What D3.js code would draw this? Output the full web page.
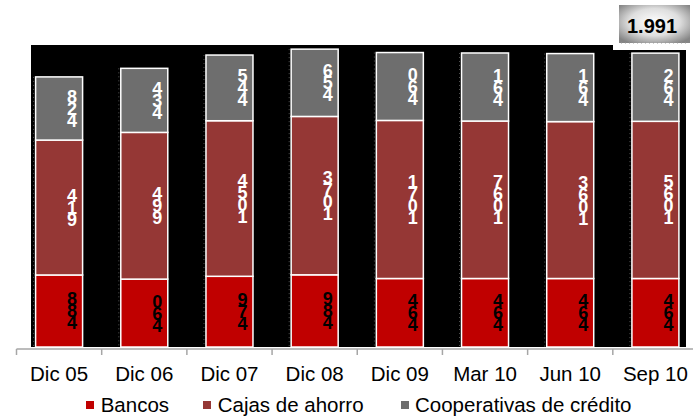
<!DOCTYPE html>
<html>
<head>
<meta charset="utf-8">
<script src="https://cdn.jsdelivr.net/npm/d3@7"></script>
<style>
  html, body { margin: 0; padding: 0; background: #fff; }
  svg { display: block; font-family: "Liberation Sans", Arial, sans-serif; }
</style>
</head>
<body>
<div id="chart"></div>
<script>
// Data
const categories = ['Dic 05', 'Dic 06', 'Dic 07', 'Dic 08', 'Dic 09', 'Mar 10', 'Jun 10', 'Sep 10'];
const bancos = [488, 460, 479, 489, 464, 464, 464, 464];
const cajas = [914, 994, 1054, 1073, 1071, 1067, 1063, 1065];
const cooperativas = [428, 434, 445, 456, 460, 461, 461, 462];
const seriesNames = ['Bancos', 'Cajas de ahorro', 'Cooperativas de crédito'];
const totalLabel = '1.991';

const colors = ['#C00000', '#953735', '#6E6E6E'];
const labelColors = ['#000', '#fff', '#fff'];

const width = 693, height = 420;

const svg = d3.select('#chart').append('svg')
    .attr('width', width)
    .attr('height', height);

// Scales
const x = d3.scaleBand()
    .domain(categories)
    .range([16.5, 698])
    .padding(0);

const y = d3.scaleLinear()
    .domain([0, 2000])
    .range([347, 51.8]);

const barW = 47;

// Plot background
svg.append('rect')
    .attr('x', 31).attr('y', 45)
    .attr('width', 655).attr('height', y(0) - 45)
    .attr('fill', '#000');

// Stack
const table = categories.map((c, i) => ({
    cat: c,
    Bancos: bancos[i],
    'Cajas de ahorro': cajas[i],
    'Cooperativas de crédito': cooperativas[i]
}));
const stacked = d3.stack().keys(seriesNames)(table);

// faint dotted lines at bar left edges
svg.append('g').selectAll('line')
    .data(table)
    .enter().append('line')
    .attr('x1', d => x(d.cat) + x.bandwidth() / 2 - barW / 2 - 2)
    .attr('x2', d => x(d.cat) + x.bandwidth() / 2 - barW / 2 - 2)
    .attr('y1', (d, i) => y(stacked[2][i][1]))
    .attr('y2', y(0))
    .attr('stroke', '#555')
    .attr('stroke-width', 1)
    .attr('stroke-dasharray', '1,3');

// Bars
const layers = svg.append('g').selectAll('g')
    .data(stacked)
    .enter().append('g')
    .attr('fill', (d, i) => colors[i]);

layers.selectAll('rect')
    .data(d => d)
    .enter().append('rect')
    .attr('x', d => x(d.data.cat) + x.bandwidth() / 2 - barW / 2)
    .attr('y', d => y(d[1]))
    .attr('width', barW)
    .attr('height', d => y(d[0]) - y(d[1]))
    .attr('stroke', '#fff')
    .attr('stroke-width', 1.5);

// Stacked-digit value labels (digits reversed, one per line)
const digitStep = 12, capH = 13;
stacked.forEach((layer, si) => {
    layer.forEach(d => {
        const val = d[1] - d[0];
        const digits = String(val).split('').reverse();
        const cx = x(d.data.cat) + x.bandwidth() / 2 + 13;
        const mid = (y(d[0]) + y(d[1])) / 2;
        const span = (digits.length - 1) * digitStep + capH;
        const y0 = mid - span / 2 + capH;
        const t = svg.append('text')
            .attr('text-anchor', 'middle')
            .attr('font-weight', 'bold')
            .attr('font-size', '18px')
            .attr('fill', labelColors[si]);
        digits.forEach((ch, k) => {
            t.append('tspan')
                .attr('x', cx)
                .attr('y', y0 + k * digitStep)
                .text(ch);
        });
    });
});

// X axis
const axisY = 349;
svg.append('line')
    .attr('x1', 16.5).attr('x2', width)
    .attr('y1', axisY).attr('y2', axisY)
    .attr('stroke', '#A6A6A6').attr('stroke-width', 1.5);

svg.append('g').selectAll('line')
    .data(categories)
    .enter().append('line')
    .attr('x1', d => x(d)).attr('x2', d => x(d))
    .attr('y1', axisY).attr('y2', axisY + 6)
    .attr('stroke', '#A6A6A6').attr('stroke-width', 1.5);

svg.append('g').selectAll('text')
    .data(categories)
    .enter().append('text')
    .attr('x', d => x(d) + x.bandwidth() / 2)
    .attr('y', 381)
    .attr('text-anchor', 'middle')
    .attr('font-size', '20.5px')
    .attr('fill', '#000')
    .text(d => d);

// Total box (top right)
const defs = svg.append('defs');
const grad = defs.append('radialGradient')
    .attr('id', 'boxGrad')
    .attr('cx', '50%').attr('cy', '45%').attr('r', '65%');
grad.append('stop').attr('offset', '0%').attr('stop-color', '#ffffff');
grad.append('stop').attr('offset', '55%').attr('stop-color', '#dedede');
grad.append('stop').attr('offset', '100%').attr('stop-color', '#858585');

svg.append('rect')
    .attr('x', 613).attr('y', 0)
    .attr('width', 80).attr('height', 50)
    .attr('fill', '#fff');

svg.append('rect')
    .attr('x', 619).attr('y', 5)
    .attr('width', 71).attr('height', 38)
    .attr('fill', 'url(#boxGrad)');

svg.append('line')
    .attr('x1', 621).attr('x2', 688)
    .attr('y1', 43).attr('y2', 43)
    .attr('stroke', '#999').attr('stroke-dasharray', '1,3');

svg.append('text')
    .attr('x', 652).attr('y', 33)
    .attr('text-anchor', 'middle')
    .attr('font-weight', 'bold')
    .attr('font-size', '20px')
    .attr('fill', '#000')
    .text(totalLabel);

// Legend
const legendItems = [
    { name: seriesNames[0], color: colors[0], mx: 86, tx: 100.7 },
    { name: seriesNames[1], color: colors[1], mx: 203, tx: 217.7 },
    { name: seriesNames[2], color: colors[2], mx: 401, tx: 415 }
];
const legend = svg.append('g');
legend.selectAll('rect')
    .data(legendItems)
    .enter().append('rect')
    .attr('x', d => d.mx).attr('y', 401)
    .attr('width', 8).attr('height', 8)
    .attr('fill', d => d.color);
legend.selectAll('text')
    .data(legendItems)
    .enter().append('text')
    .attr('x', d => d.tx).attr('y', 412)
    .attr('font-size', '20.5px')
    .attr('fill', '#000')
    .text(d => d.name);
</script>
</body>
</html>
